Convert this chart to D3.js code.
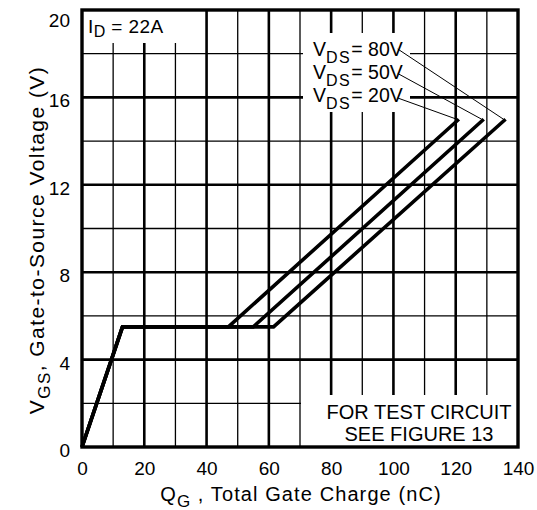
<!DOCTYPE html>
<html>
<head>
<meta charset="utf-8">
<script src="https://cdn.jsdelivr.net/npm/d3@7"></script>
<style>
  body { margin: 0; background: #fff; }
  svg { display: block; }
  text { font-family: "Liberation Sans", Arial, sans-serif; fill: #000; }
</style>
</head>
<body>
<script>
// gate charge curves, ID = 22A
var vdsLabels = ['80V', '50V', '20V'];
var rampCharge = 13;       // nC at end of the first ramp
var plateauVgs = 5.5;      // V, Miller plateau
var plateauEnd = [61.5, 55, 47];   // nC, where each curve leaves the plateau
var endCharge = [136, 129, 121];   // nC at the top end of each curve
var endVgs = 15;

var xTicks = [0, 20, 40, 60, 80, 100, 120, 140];
var yTicks = [0, 4, 8, 12, 16, 20];

var width = 537, height = 510;
var margin = {left: 82, right: 19, top: 10, bottom: 63};

var svg = d3.select('body').append('svg')
    .attr('width', width)
    .attr('height', height);

var x = d3.scaleLinear().domain([0, 140]).range([margin.left, width - margin.right]);
var y = d3.scaleLinear().domain([0, 20]).range([height - margin.bottom, margin.top]);

// grid: thin every 10 nC / 2 V, thick on the labelled values
var grid = svg.append('g');
grid.selectAll('.vgrid')
    .data(d3.range(10, 140, 10))
    .enter().append('line')
    .attr('x1', function(d) { return x(d); })
    .attr('x2', function(d) { return x(d); })
    .attr('y1', y(0))
    .attr('y2', y(20))
    .attr('stroke', '#000')
    .attr('stroke-width', function(d) { return d % 20 === 0 ? 2.6 : 1.3; });

grid.selectAll('.hgrid')
    .data(d3.range(2, 20, 2))
    .enter().append('line')
    .attr('x1', x(0))
    .attr('x2', x(140))
    .attr('y1', function(d) { return y(d); })
    .attr('y2', function(d) { return y(d); })
    .attr('stroke', '#000')
    .attr('stroke-width', function(d) { return d % 4 === 0 ? 2.6 : 1.3; });

// white boxes behind the notes
svg.append('rect').attr('x', x(0)).attr('y', y(20))
    .attr('width', 123).attr('height', 33).attr('fill', '#fff');
svg.append('rect').attr('x', 303).attr('y', 33)
    .attr('width', 107).attr('height', 79).attr('fill', '#fff');
svg.append('rect').attr('x', x(70) + 1).attr('y', 395)
    .attr('width', x(140) - x(70) - 1).attr('height', y(0) - 395).attr('fill', '#fff');

// frame
svg.append('rect')
    .attr('x', x(0)).attr('y', y(20))
    .attr('width', x(140) - x(0)).attr('height', y(0) - y(20))
    .attr('fill', 'none')
    .attr('stroke', '#000')
    .attr('stroke-width', 3.4);

// axes (labels only)
var xAxis = svg.append('g')
    .attr('transform', 'translate(0,' + y(0) + ')')
    .call(d3.axisBottom(x).tickValues(xTicks).tickSize(0).tickPadding(15));
var yAxis = svg.append('g')
    .attr('transform', 'translate(' + x(0) + ',0)')
    .call(d3.axisLeft(y).tickValues(yTicks).tickSize(0).tickPadding(12));
[xAxis, yAxis].forEach(function(a) {
    a.select('.domain').remove();
    a.selectAll('text')
        .style('font-size', '19px')
        .style('font-family', '"Liberation Sans", Arial, sans-serif')
        .attr('fill', '#000');
});
yAxis.selectAll('text').attr('dy', '0.5em');
yAxis.selectAll('.tick').filter(function(d) { return d === 20; })
    .select('text').attr('dy', '0.85em');

// curves
var line = d3.line()
    .x(function(d) { return x(d[0]); })
    .y(function(d) { return y(d[1]); });

var curves = vdsLabels.map(function(v, i) {
    return [[0, 0], [rampCharge, plateauVgs], [plateauEnd[i], plateauVgs], [endCharge[i], endVgs]];
});

svg.selectAll('.curve')
    .data(curves)
    .enter().append('path')
    .attr('d', line)
    .attr('fill', 'none')
    .attr('stroke', '#000')
    .attr('stroke-width', 3.6)
    .attr('stroke-linejoin', 'miter');

// VDS labels with leader lines
var labelX = 313;
vdsLabels.forEach(function(v, i) {
    var by = 56 + i * 23;
    var t = svg.append('text')
        .attr('x', labelX)
        .attr('y', by)
        .style('font-size', '19.5px');
    t.append('tspan').text('V');
    t.append('tspan').attr('dy', 7).style('font-size', '16px')
        .style('letter-spacing', '1.5px').text('DS');
    t.append('tspan').attr('dy', -7).text('= ' + v);
    var len = t.node().getComputedTextLength();
    svg.append('line')
        .attr('x1', labelX + len - 5)
        .attr('y1', by - 7 + i * 1.5)
        .attr('x2', x(endCharge[i]) - 2)
        .attr('y2', y(endVgs))
        .attr('stroke', '#000')
        .attr('stroke-width', 1);
});

// ID note
var idText = svg.append('text')
    .attr('x', 88).attr('y', 33)
    .style('font-size', '19px')
    .style('letter-spacing', '0.4px');
idText.append('tspan').text('I');
idText.append('tspan').attr('dy', 4).style('font-size', '16px').text('D');
idText.append('tspan').attr('dy', -4).text(' = 22A');

// test circuit note
svg.append('text')
    .attr('x', 419).attr('y', 419)
    .attr('text-anchor', 'middle')
    .style('font-size', '20px')
    .text('FOR TEST CIRCUIT');
svg.append('text')
    .attr('x', 419).attr('y', 441)
    .attr('text-anchor', 'middle')
    .style('font-size', '20px')
    .text('SEE FIGURE  13');

// axis titles
var xt = svg.append('text')
    .attr('y', 501)
    .style('font-size', '20px')
    .style('letter-spacing', '1.1px');
xt.append('tspan').text('Q');
xt.append('tspan').attr('dy', 6).style('font-size', '17px').text('G');
xt.append('tspan').attr('dy', -6).text(' ,  Total Gate Charge (nC)');
var xtLen = xt.node().getComputedTextLength();
xt.attr('x', 301 - xtLen / 2);

var yt = svg.append('text')
    .style('font-size', '21px')
    .style('letter-spacing', '1.45px');
yt.append('tspan').text('V');
yt.append('tspan').attr('dy', 6).style('font-size', '17px').text('GS');
yt.append('tspan').attr('dy', -6).text(',  Gate-to-Source Voltage (V)');
var ytLen = yt.node().getComputedTextLength();
yt.attr('transform', 'translate(44,240) rotate(-90)')
    .attr('x', -ytLen / 2);
</script>
</body>
</html>
